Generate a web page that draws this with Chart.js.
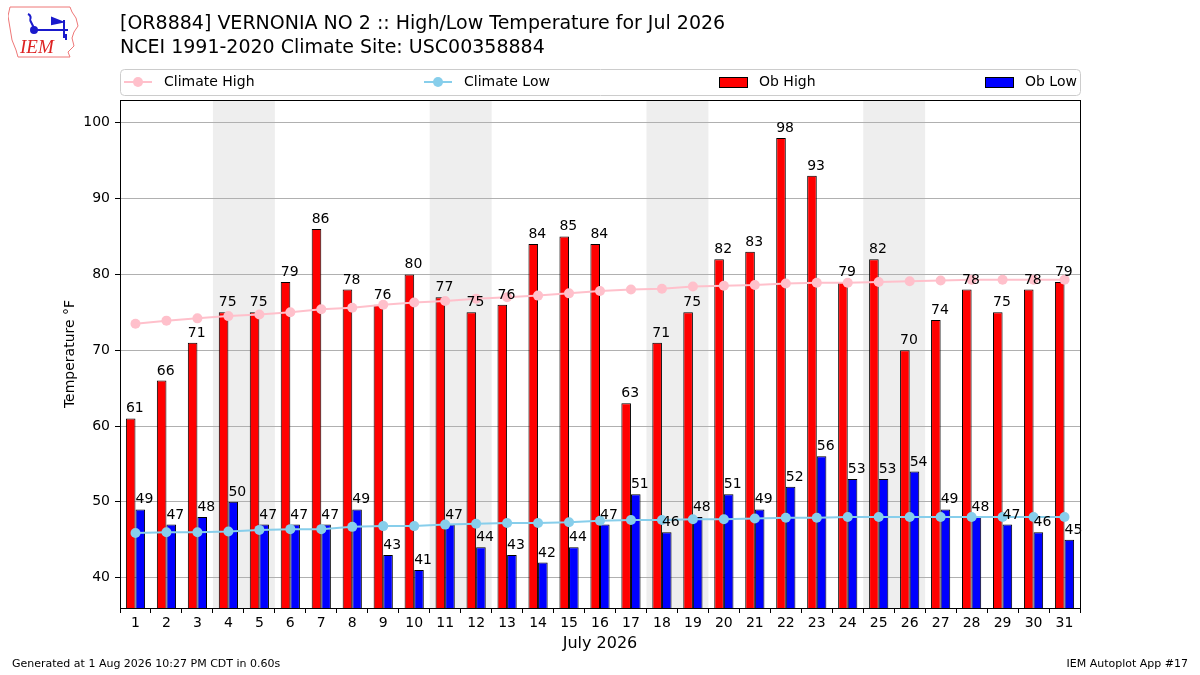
<!DOCTYPE html>
<html>

<head>
    <meta charset="UTF-8">
    <title>VERNONIA NO 2 High/Low Temperature Jul 2026</title>
    <script src="https://cdn.jsdelivr.net/npm/chart.js"></script>
    <style>
        body {
            margin: 0;
            background-color: #ffffff;
            font-family: 'DejaVu Sans', sans-serif;
        }

        .wrap {
            position: relative;
            width: 1200px;
            height: 675px;
        }

        .title {
            position: absolute;
            left: 120px;
            font-size: 19px;
            color: #000;
            white-space: nowrap;
        }

        .foot {
            position: absolute;
            top: 657px;
            font-size: 11px;
            color: #000;
        }

        #logo {
            position: absolute;
            left: 8px;
            top: 6px;
        }
    </style>
</head>

<body>
    <div class="wrap">
        <canvas id="tempChart" width="1200" height="675"></canvas>

        <!-- little IEM logo, top left -->
        <svg id="logo" width="72" height="52" viewBox="0 0 72 52">
            <polygon points="2,1 62,1 64,6 68,12 70,20 66,26 64,32 66,40 60,46 62,51 10,51 8,44 4,34 2,22 0,10" fill="none" stroke="#e77" stroke-width="1" />
            <g stroke="#1a1acc" stroke-width="2" fill="none">
                <path d="M20,8 q4,2 2,6 M22,14 l4,8 M24,24 l36,0 M56,14 l0,18 M58,28 l0,6" />
                <path d="M44,12 l10,4 l-10,2 z" fill="#1a1acc" />
                <circle cx="26" cy="24" r="3" fill="#1a1acc" />
            </g>
            <text x="12" y="47" font-family="Liberation Serif, serif" font-style="italic" font-size="19" fill="#d22">IEM</text>
        </svg>

        <div class="title" style="top: 11px;">[OR8884] VERNONIA NO 2 :: High/Low Temperature for Jul 2026</div>
        <div class="title" style="top: 35px;">NCEI 1991-2020 Climate Site: USC00358884</div>

        <div class="foot" style="left: 12px;">Generated at 1 Aug 2026 10:27 PM CDT in 0.60s</div>
        <div class="foot" style="right: 12px;">IEM Autoplot App #17</div>
    </div>

    <script>
        // days of July 2026
        var days = ['1', '2', '3', '4', '5', '6', '7', '8', '9', '10', '11', '12', '13', '14', '15', '16',
            '17', '18', '19', '20', '21', '22', '23', '24', '25', '26', '27', '28', '29', '30', '31'];

        var obHigh = [61, 66, 71, 75, 75, 79, 86, 78, 76, 80, 77, 75, 76, 84, 85, 84,
            63, 71, 75, 82, 83, 98, 93, 79, 82, 70, 74, 78, 75, 78, 79];

        var obLow = [49, 47, 48, 50, 47, 47, 47, 49, 43, 41, 47, 44, 43, 42, 44, 47,
            51, 46, 48, 51, 49, 52, 56, 53, 53, 54, 49, 48, 47, 46, 45];

        var climateHigh = [73.5, 73.9, 74.2, 74.5, 74.7, 75.0, 75.4, 75.6, 76.0, 76.3, 76.5, 76.8, 77.0, 77.2, 77.5, 77.8,
            78.0, 78.1, 78.4, 78.5, 78.6, 78.8, 78.9, 78.9, 79.0, 79.1, 79.2, 79.3, 79.3, 79.3, 79.3];

        var climateLow = [45.9, 46.0, 46.0, 46.1, 46.3, 46.4, 46.4, 46.7, 46.8, 46.8, 47.0, 47.1, 47.2, 47.2, 47.3, 47.5,
            47.6, 47.6, 47.7, 47.7, 47.8, 47.9, 47.9, 48.0, 48.0, 48.0, 48.0, 48.0, 48.0, 48.0, 48.0];

        // weekends (Sat/Sun pairs) get a grey band
        var weekends = [['4', '5'], ['11', '12'], ['18', '19'], ['25', '26']];

        var yTicks = [40, 50, 60, 70, 80, 90, 100];

        var FONT = "'DejaVu Sans', sans-serif";

        // grey weekend bands, under the grid
        var weekendBands = {
            id: 'weekendBands',
            beforeDraw: function (chart) {
                var ctx = chart.ctx;
                var x = chart.scales.x;
                var area = chart.chartArea;
                var half = (x.getPixelForValue(1) - x.getPixelForValue(0)) / 2;
                ctx.save();
                ctx.fillStyle = '#eeeeee';
                weekends.forEach(function (w) {
                    var x0 = x.getPixelForValue(days.indexOf(w[0])) - half;
                    var x1 = x.getPixelForValue(days.indexOf(w[1])) + half;
                    ctx.fillRect(x0, area.top, x1 - x0, area.bottom - area.top);
                });
                ctx.restore();
            }
        };

        // value labels over the bars + black frame round the plot
        var barLabels = {
            id: 'barLabels',
            afterDatasetsDraw: function (chart) {
                var ctx = chart.ctx;
                ctx.save();
                ctx.font = '14px ' + FONT;
                ctx.fillStyle = '#000';
                ctx.textAlign = 'left';
                ctx.textBaseline = 'alphabetic';
                chart.data.datasets.forEach(function (ds, i) {
                    if (ds.type !== 'bar') return;
                    chart.getDatasetMeta(i).data.forEach(function (bar, j) {
                        ctx.fillText(String(ds.data[j]), bar.x - bar.width / 2, bar.y - 6);
                    });
                });
                var a = chart.chartArea;
                ctx.strokeStyle = '#000';
                ctx.lineWidth = 1;
                ctx.strokeRect(a.left + 0.5, a.top + 0.5, a.right - a.left, a.bottom - a.top);
                ctx.restore();
            }
        };

        // matplotlib style legend across the top
        var topLegend = {
            id: 'topLegend',
            afterDraw: function (chart) {
                var ctx = chart.ctx;
                var items = chart.data.datasets;
                var slots = [124, 424, 719, 985];
                ctx.save();
                ctx.strokeStyle = '#cccccc';
                ctx.lineWidth = 1;
                ctx.beginPath();
                ctx.roundRect(120.5, 69.5, 960, 26, 4);
                ctx.stroke();
                ctx.font = '14px ' + FONT;
                ctx.textBaseline = 'middle';
                items.forEach(function (ds, i) {
                    var x = slots[i];
                    var y = 82;
                    if (ds.type === 'line') {
                        ctx.strokeStyle = ds.borderColor;
                        ctx.lineWidth = 2;
                        ctx.beginPath();
                        ctx.moveTo(x, y);
                        ctx.lineTo(x + 28, y);
                        ctx.stroke();
                        ctx.fillStyle = ds.borderColor;
                        ctx.beginPath();
                        ctx.arc(x + 14, y, 5, 0, Math.PI * 2);
                        ctx.fill();
                    } else {
                        ctx.fillStyle = ds.backgroundColor;
                        ctx.fillRect(x, y - 5, 28, 10);
                        ctx.strokeStyle = '#000';
                        ctx.lineWidth = 1;
                        ctx.strokeRect(x + 0.5, y - 4.5, 28, 10);
                    }
                    ctx.fillStyle = '#000';
                    ctx.fillText(ds.label, x + 40, y);
                });
                ctx.restore();
            }
        };

        var ctx = document.getElementById('tempChart').getContext('2d');
        var tempChart = new Chart(ctx, {
            data: {
                labels: days,
                datasets: [{
                    type: 'line',
                    label: 'Climate High',
                    data: climateHigh,
                    borderColor: '#ffc0cb',
                    backgroundColor: '#ffc0cb',
                    borderWidth: 2,
                    pointRadius: 5,
                    pointBorderWidth: 0,
                    tension: 0,
                    order: 0
                }, {
                    type: 'line',
                    label: 'Climate Low',
                    data: climateLow,
                    borderColor: '#87ceeb',
                    backgroundColor: '#87ceeb',
                    borderWidth: 2,
                    pointRadius: 5,
                    pointBorderWidth: 0,
                    tension: 0,
                    order: 0
                }, {
                    type: 'bar',
                    label: 'Ob High',
                    data: obHigh,
                    backgroundColor: '#ff0000',
                    borderColor: '#000000',
                    borderWidth: 1,
                    borderSkipped: false,
                    order: 1
                }, {
                    type: 'bar',
                    label: 'Ob Low',
                    data: obLow,
                    backgroundColor: '#0000ff',
                    borderColor: '#000000',
                    borderWidth: 1,
                    borderSkipped: false,
                    order: 1
                }]
            },
            options: {
                responsive: false,
                animation: false,
                datasets: {
                    bar: {
                        categoryPercentage: 0.62,
                        barPercentage: 1.0
                    }
                },
                layout: {
                    padding: { left: 62, top: 100, right: 120, bottom: 18 }
                },
                plugins: {
                    legend: { display: false },
                    tooltip: { enabled: false }
                },
                scales: {
                    x: {
                        offset: true,
                        grid: {
                            display: true,
                            drawOnChartArea: false,
                            tickLength: 5,
                            tickColor: '#000'
                        },
                        border: { display: false },
                        ticks: {
                            color: '#000',
                            font: { family: FONT, size: 14 },
                            maxRotation: 0,
                            autoSkip: false,
                            padding: 2
                        },
                        title: {
                            display: true,
                            text: 'July 2026',
                            color: '#000',
                            font: { family: FONT, size: 16 },
                            padding: { top: 2 }
                        },
                        afterFit: function (scale) { scale.height = 49; }
                    },
                    y: {
                        min: 36,
                        max: 103,
                        afterBuildTicks: function (scale) {
                            scale.ticks = yTicks.map(function (v) { return { value: v }; });
                        },
                        grid: {
                            color: '#b0b0b0',
                            tickColor: '#000',
                            tickLength: 5
                        },
                        border: { display: false },
                        ticks: {
                            color: '#000',
                            font: { family: FONT, size: 14 },
                            padding: 5
                        },
                        title: {
                            display: true,
                            text: 'Temperature °F',
                            color: '#000',
                            font: { family: FONT, size: 14 },
                            padding: 0
                        },
                        afterFit: function (scale) { scale.width = 58; }
                    }
                }
            },
            plugins: [weekendBands, barLabels, topLegend]
        });
    </script>
</body>

</html>
